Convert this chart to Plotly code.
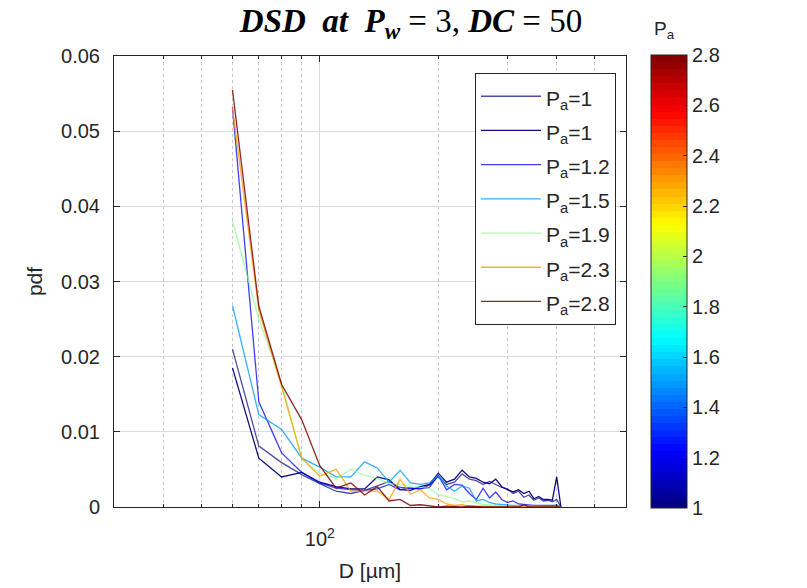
import plotly.graph_objects as go
import numpy as np

# ---------------- data ----------------
D_um = [60, 70, 80, 90, 100, 110, 120, 130, 140, 150, 160, 170, 180, 190, 200,
        210, 220, 230, 240, 250, 260, 270, 280, 290, 300, 310, 320, 330, 340,
        350, 360, 370, 380, 390, 400, 410]

Pa_values = [1, 1, 1.2, 1.5, 1.9, 2.3, 2.8]
legend_labels = ["P<sub>a</sub>=1", "P<sub>a</sub>=1", "P<sub>a</sub>=1.2", "P<sub>a</sub>=1.5",
                 "P<sub>a</sub>=1.9", "P<sub>a</sub>=2.3", "P<sub>a</sub>=2.8"]

pdf_pa1_a = [0.0210, 0.0081, 0.0059, 0.0043, 0.0031, 0.0021, 0.0018, 0.0022, 0.0028, 0.0034,
             0.0026, 0.0025, 0.0024, 0.0029, 0.0041, 0.0030, 0.0033, 0.0044, 0.0037, 0.0035,
             0.0030, 0.0034, 0.0030, 0.0026, 0.0024, 0.0018, 0.0021, 0.0013, 0.0016, 0.0009,
             0.0012, 0.0008, 0.0009, 0.0007, 0.0010, 0.0000]
pdf_pa1_b = [0.0185, 0.0065, 0.0040, 0.0046, 0.0033, 0.0027, 0.0024, 0.0024, 0.0040, 0.0036,
             0.0023, 0.0022, 0.0027, 0.0030, 0.0045, 0.0033, 0.0037, 0.0049, 0.0040, 0.0038,
             0.0033, 0.0031, 0.0037, 0.0027, 0.0023, 0.0020, 0.0023, 0.0018, 0.0021, 0.0011,
             0.0014, 0.0010, 0.0010, 0.0009, 0.0040, 0.0000]
pdf_pa12 = [0.0532, 0.0140, 0.0072, 0.0046, 0.0032, 0.0025, 0.0023, 0.0022, 0.0024, 0.0030,
            0.0023, 0.0025, 0.0024, 0.0026, 0.0042, 0.0023, 0.0030, 0.0029, 0.0018, 0.0010,
            0.0025, 0.0012, 0.0020, 0.0010, 0.0006, 0.0008, 0.0004, 0.0003, 0.0003, 0.0002,
            0.0002, 0.0002, 0.0001, 0.0001, 0.0002, 0.0000]
pdf_pa15 = [0.0268, 0.0123, 0.0103, 0.0065, 0.0053, 0.0040, 0.0040, 0.0060, 0.0052, 0.0033,
            0.0049, 0.0032, 0.0030, 0.0032, 0.0042, 0.0028, 0.0021, 0.0028, 0.0025, 0.0008,
            0.0010, 0.0006, 0.0004, 0.0003, 0.0003, 0.0002, 0.0002, 0.0002, 0.0001, 0.0001,
            0.0001, 0.0001, 0.0001, 0.0001, 0.0003, 0.0000]
pdf_pa19 = [0.0381, 0.0250, 0.0165, 0.0064, 0.0045, 0.0038, 0.0050, 0.0042, 0.0038, 0.0031,
            0.0030, 0.0027, 0.0026, 0.0025, 0.0016, 0.0014, 0.0011, 0.0007, 0.0008, 0.0005,
            0.0003, 0.0003, 0.0002, 0.0002, 0.0001, 0.0001, 0.0001, 0.0001, 0.0001, 0.0001,
            0.0000, 0.0001, 0.0000, 0.0000, 0.0001, 0.0000]
pdf_pa23 = [0.0531, 0.0262, 0.0160, 0.0065, 0.0041, 0.0050, 0.0021, 0.0021, 0.0021, 0.0010,
            0.0037, 0.0017, 0.0023, 0.0012, 0.0010, 0.0004, 0.0002, 0.0003, 0.0001, 0.0001,
            0.0001, 0.0000, 0.0001, 0.0000, 0.0000, 0.0000, 0.0000, 0.0000, 0.0000, 0.0000,
            0.0000, 0.0000, 0.0000, 0.0000, 0.0000, 0.0000]
pdf_pa28 = [0.0555, 0.0267, 0.0163, 0.0116, 0.0055, 0.0025, 0.0032, 0.0016, 0.0027, 0.0008,
            0.0010, 0.0002, 0.0003, 0.0001, 0.0000, 0.0001, 0.0000, 0.0000, 0.0001, 0.0000,
            0.0000, 0.0000, 0.0000, 0.0000, 0.0000, 0.0000, 0.0000, 0.0003, 0.0000, 0.0000,
            0.0000, 0.0000, 0.0000, 0.0000, 0.0000, 0.0000]

series = [pdf_pa1_a, pdf_pa1_b, pdf_pa12, pdf_pa15, pdf_pa19, pdf_pa23, pdf_pa28]
series_opacity = [0.7, 0.95, 0.75, 0.8, 0.65, 0.8, 0.85]

y_tickvals = [0, 0.01, 0.02, 0.03, 0.04, 0.05, 0.06]
y_ticktext = ["0", "0.01", "0.02", "0.03", "0.04", "0.05", "0.06"]
x_major_vals = [100]
x_major_text = ["10<sup>2</sup>"]
x_minor_vals = [40, 50, 60, 70, 80, 90, 200, 300, 400, 500]
cb_tickvals = [1, 1.2, 1.4, 1.6, 1.8, 2, 2.2, 2.4, 2.6, 2.8]
cb_ticktext = ["1", "1.2", "1.4", "1.6", "1.8", "2", "2.2", "2.4", "2.6", "2.8"]
Pa_min, Pa_max = 1.0, 2.8


# ---------------- MATLAB jet colormap ----------------
def jet(t):
    t = min(max(t, 0.0), 1.0)
    r = np.clip(1.5 - abs(4 * t - 3), 0, 1)
    g = np.clip(1.5 - abs(4 * t - 2), 0, 1)
    b = np.clip(1.5 - abs(4 * t - 1), 0, 1)
    return int(round(r * 255)), int(round(g * 255)), int(round(b * 255))


def rgba(t, a):
    r, g, b = jet(t)
    return f"rgba({r},{g},{b},{a})"


n_levels = 64
jet_scale = []
for i in range(n_levels):
    r, g, b = jet((i + 0.5) / n_levels)
    c = f"rgb({r},{g},{b})"
    jet_scale.append([i / n_levels, c])
    jet_scale.append([(i + 1) / n_levels, c])

text_color = "#262626"
font_family = "Liberation Sans, Arial, sans-serif"

fig = go.Figure()

for vals, pa, lab, op in zip(series, Pa_values, legend_labels, series_opacity):
    t = (pa - Pa_min) / (Pa_max - Pa_min)
    fig.add_trace(go.Scatter(
        x=D_um, y=vals, mode="lines",
        name=f'<span style="font-size:21px">{lab}</span>',
        line=dict(color=rgba(t, op), width=1.3),
    ))

# colorbar holder
fig.add_trace(go.Scatter(
    x=[None, None], y=[None, None], mode="markers", showlegend=False,
    hoverinfo="skip",
    marker=dict(
        color=[Pa_min, Pa_max], cmin=Pa_min, cmax=Pa_max, colorscale=jet_scale,
        showscale=True,
        colorbar=dict(
            x=1.049, xanchor="left", y=0.5, yanchor="middle",
            len=1.004, lenmode="fraction", thickness=36, thicknessmode="pixels",
            xpad=0, ypad=0,
            outlinewidth=1, outlinecolor=text_color,
            tickvals=cb_tickvals, ticktext=cb_ticktext,
            ticks="inside", ticklen=4, tickcolor=text_color,
            tickfont=dict(size=20, color=text_color, family=font_family),
        ),
    ),
))

fig.add_annotation(
    text="P<sub>a</sub>", xref="paper", yref="paper", x=1.076, y=1.058,
    xanchor="center", yanchor="middle", showarrow=False,
    font=dict(size=19, color=text_color, family=font_family),
)

fig.update_layout(
    width=807, height=588,
    margin=dict(l=106, r=189, t=48, b=89, autoexpand=False),
    paper_bgcolor="white", plot_bgcolor="white",
    font=dict(family=font_family, color=text_color, size=19),
    title=dict(
        text="<b><i>DSD  at  P<sub>w</sub></i></b> = 3, <b><i>DC</i></b> = 50",
        x=0.4994, xanchor="center", xref="container", y=0.999, yanchor="top",
        pad=dict(t=0, b=0),
        font=dict(family="Liberation Serif, DejaVu Serif, serif", size=33, color="black"),
    ),
    showlegend=True,
    legend=dict(
        x=0.705, xanchor="left", y=0.962, yanchor="top",
        bgcolor="white", bordercolor=text_color, borderwidth=1,
        font=dict(size=24, color=text_color, family=font_family),
        tracegroupgap=0, itemwidth=60,
    ),
)

fig.update_xaxes(
    type="log", range=[np.log10(30), np.log10(600)],
    tickvals=x_major_vals, ticktext=x_major_text,
    ticks="inside", ticklen=6, tickcolor=text_color,
    showgrid=True, gridcolor="#dcdcdc", gridwidth=1,
    showline=True, linecolor=text_color, linewidth=1, mirror="ticks",
    tickfont=dict(size=20, color=text_color),
    ticklabelstandoff=14,
    minor=dict(tickvals=x_minor_vals, ticks="inside", ticklen=3, tickcolor=text_color,
               showgrid=True, gridcolor="#c8c8c8", griddash="dot", gridwidth=1),
    title=dict(text="D [µm]", font=dict(size=21, color=text_color), standoff=14),
    zeroline=False,
)
fig.update_yaxes(
    range=[0, 0.06], tickvals=y_tickvals, ticktext=y_ticktext,
    ticks="inside", ticklen=6, tickcolor=text_color,
    showgrid=True, gridcolor="#dcdcdc", gridwidth=1,
    showline=True, linecolor=text_color, linewidth=1, mirror="ticks",
    tickfont=dict(size=20, color=text_color),
    ticklabelstandoff=9,
    title=dict(text="pdf", font=dict(size=21, color=text_color), standoff=12),
    zeroline=False,
)

fig.write_html("out.html")
